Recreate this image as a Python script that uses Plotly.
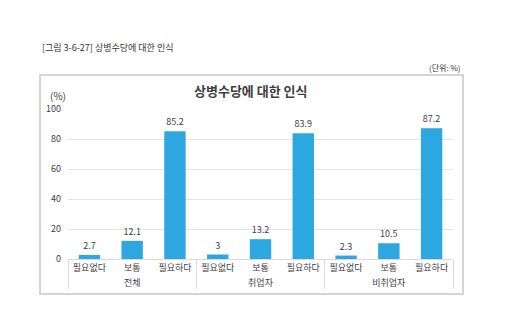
import plotly.graph_objects as go

groups = ["전체", "전체", "전체", "취업자", "취업자", "취업자", "비취업자", "비취업자", "비취업자"]
responses = ["필요없다", "보통", "필요하다"] * 3
values = [2.7, 12.1, 85.2, 3, 13.2, 83.9, 2.3, 10.5, 87.2]
y_ticks = [0, 20, 40, 60, 80, 100]

FONT = "Noto Sans CJK KR"
BAR_COLOR = "#2CA7E0"

W, H = 514, 331
L, R, T, B = 68, 61, 109, 72
pw, ph = W - L - R, H - T - B


def px(x):
    return (x - L) / pw


def py(y):
    return (H - B - y) / ph


fig = go.Figure(
    go.Bar(
        x=[groups, responses],
        y=values,
        marker=dict(color=BAR_COLOR, line=dict(width=0)),
        width=0.5,
        text=[f"{v:g}" for v in values],
        textposition="outside",
        textfont=dict(family=FONT, size=9, color="#404040"),
        cliponaxis=False,
    )
)

fig.update_layout(
    width=W,
    height=H,
    margin=dict(l=L, r=R, t=T, b=B),
    paper_bgcolor="white",
    plot_bgcolor="white",
    showlegend=False,
    font=dict(family=FONT, size=9, color="#404040"),
    xaxis=dict(
        type="multicategory",
        showdividers=True,
        dividercolor="#d9d9d9",
        dividerwidth=1,
        showline=True,
        linecolor="#d9d9d9",
        linewidth=1,
        ticks="",
        tickfont=dict(family=FONT, size=9, color="#404040"),
    ),
    yaxis=dict(
        range=[0, 100],
        tickvals=y_ticks,
        showgrid=True,
        gridcolor="#e3e3e3",
        gridwidth=1,
        zeroline=False,
        showline=False,
        ticks="",
        ticklabelstandoff=6,
        tickfont=dict(family=FONT, size=9, color="#404040"),
    ),
    shapes=[
        dict(
            type="rect", xref="paper", yref="paper",
            x0=px(40), x1=px(463), y0=py(294), y1=py(75),
            line=dict(color="#c8c8c8", width=1.5), fillcolor="rgba(0,0,0,0)",
            layer="below",
        )
    ],
    annotations=[
        dict(
            text="[그림 3-6-27] 상병수당에 대한 인식", xref="paper", yref="paper",
            x=px(40), y=py(47), xanchor="left", yanchor="middle", showarrow=False,
            font=dict(family=FONT, size=9, color="#333333"),
        ),
        dict(
            text="(단위: %)", xref="paper", yref="paper",
            x=px(463), y=py(67), xanchor="right", yanchor="middle", showarrow=False,
            font=dict(family=FONT, size=8, color="#333333"),
        ),
        dict(
            text="<b>상병수당에 대한 인식</b>", xref="paper", yref="paper",
            x=px(251), y=py(90), xanchor="center", yanchor="middle", showarrow=False,
            font=dict(family=FONT, size=13, color="#404040"),
        ),
        dict(
            text="(%)", xref="paper", yref="paper",
            x=px(58), y=py(95), xanchor="center", yanchor="middle", showarrow=False,
            font=dict(family=FONT, size=10, color="#404040"),
        ),
    ],
)

fig.write_html("out.html")
